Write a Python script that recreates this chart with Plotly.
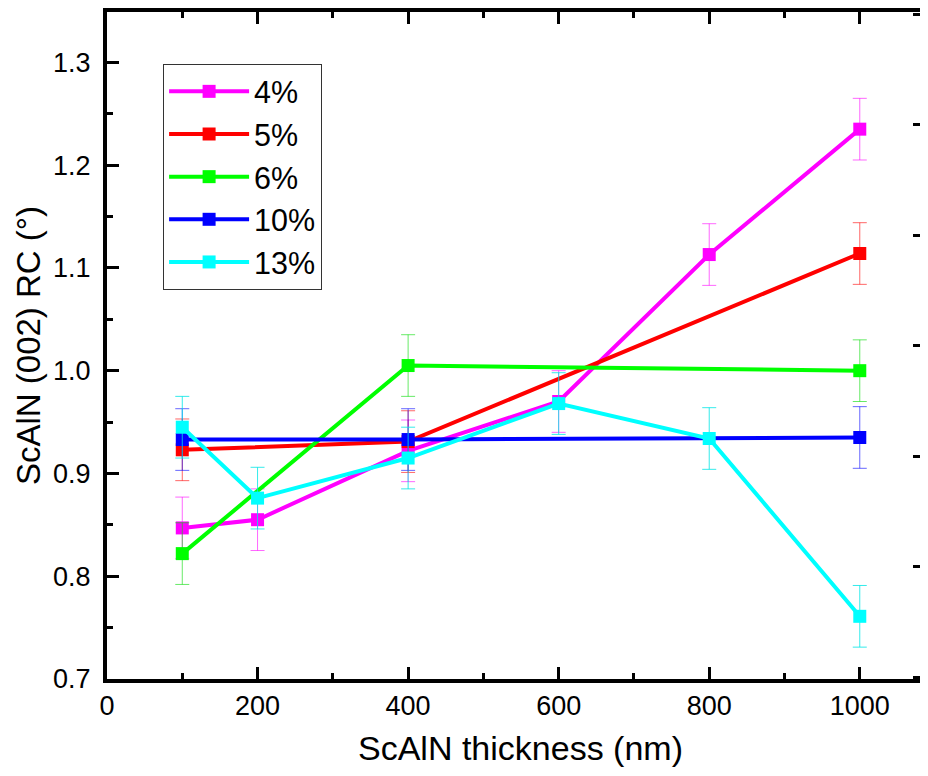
import plotly.graph_objects as go

# Data
x_4 = [100, 200, 400, 600, 800, 1000]
y_4 = [0.847, 0.855, 0.922, 0.970, 1.113, 1.235]
e_4 = [0.03, 0.03, 0.03, 0.03, 0.03, 0.03]

x_5 = [100, 400, 1000]
y_5 = [0.923, 0.931, 1.114]
e_5 = [0.03, 0.03, 0.03]

x_6 = [100, 400, 1000]
y_6 = [0.822, 1.005, 1.000]
e_6 = [0.03, 0.03, 0.03]

x_10 = [100, 400, 1000]
y_10 = [0.933, 0.933, 0.935]
e_10 = [0.03, 0.03, 0.03]

x_13 = [100, 200, 400, 600, 800, 1000]
y_13 = [0.945, 0.876, 0.915, 0.968, 0.934, 0.761]
e_13 = [0.03, 0.03, 0.03, 0.03, 0.03, 0.03]

x_ticks = [0, 200, 400, 600, 800, 1000]
y_ticks = [0.7, 0.8, 0.9, 1.0, 1.1, 1.2, 1.3]
y_ticktext = ["0.7", "0.8", "0.9", "1.0", "1.1", "1.2", "1.3"]

x_title = "ScAlN thickness (nm)"
y_title = "ScAlN (002) RC (°)"

series = [
    ("4%", x_4, y_4, e_4, "#ff00ff", "rgba(255,0,255,0.6)"),
    ("5%", x_5, y_5, e_5, "#ff0000", "rgba(255,0,0,0.6)"),
    ("6%", x_6, y_6, e_6, "#00ff00", "rgba(0,220,0,0.6)"),
    ("10%", x_10, y_10, e_10, "#0000ff", "rgba(0,0,255,0.6)"),
    ("13%", x_13, y_13, e_13, "#00ffff", "rgba(0,230,230,0.8)"),
]

FONT = "Arial, Liberation Sans, sans-serif"

fig = go.Figure()
for name, xs, ys, es, col, ecol in series:
    fig.add_trace(go.Scatter(
        x=xs, y=ys, name=name, mode="lines+markers",
        line=dict(color=col, width=4),
        marker=dict(symbol="square", size=13, color=col),
        error_y=dict(type="data", array=es, visible=True,
                     color=ecol, thickness=1, width=7),
    ))

# invisible trace so the right-hand tick axis is drawn
fig.add_trace(go.Scatter(x=[None], y=[None], yaxis="y2", showlegend=False,
                         hoverinfo="skip"))

fig.add_annotation(
    text=x_title, xref="paper", yref="paper", x=0.508, y=-0.104,
    xanchor="center", yanchor="middle", showarrow=False,
    font=dict(size=34, family=FONT, color="black"),
)

fig.update_layout(
    width=912, height=760,
    margin=dict(l=99, r=0, t=4, b=89),
    paper_bgcolor="white", plot_bgcolor="white",
    font=dict(family=FONT, size=27, color="black"),
    showlegend=True,
    legend=dict(
        x=0.069, y=0.922, xanchor="left", yanchor="top",
        bordercolor="#333333", borderwidth=1, bgcolor="white",
        font=dict(size=30.5, family=FONT, color="black"),
        tracegroupgap=0, itemwidth=80,
    ),
    xaxis=dict(
        range=[0, 1080], tickvals=x_ticks, automargin=False,
        showline=True, linecolor="black", linewidth=4, mirror="ticks",
        ticks="inside", ticklen=12, tickwidth=3, tickcolor="black",
        minor=dict(ticks="inside", ticklen=6, tickwidth=3, dtick=100,
                   tickcolor="black"),
        showgrid=False, zeroline=False,
        ticklabelstandoff=0,
        tickfont=dict(size=27, family=FONT),
    ),
    yaxis=dict(
        range=[0.7, 1.349], tickvals=y_ticks, ticktext=y_ticktext,
        automargin=False,
        showline=True, linecolor="black", linewidth=4, mirror=False,
        ticks="inside", ticklen=12, tickwidth=3, tickcolor="black",
        minor=dict(ticks="inside", ticklen=6, tickwidth=3, dtick=0.05,
                   tickcolor="black"),
        showgrid=False, zeroline=False,
        ticklabelstandoff=7,
        tickfont=dict(size=27, family=FONT),
        title=dict(text=y_title, font=dict(size=33, family=FONT),
                   standoff=4),
    ),
    yaxis2=dict(
        overlaying="y", side="right", anchor="x", automargin=False,
        range=[-1.0136, 5.022], dtick=1,
        ticks="inside", ticklen=7, tickwidth=3, tickcolor="black",
        showticklabels=False, showline=False, showgrid=False, zeroline=False,
    ),
)

fig.write_html("out.html")
